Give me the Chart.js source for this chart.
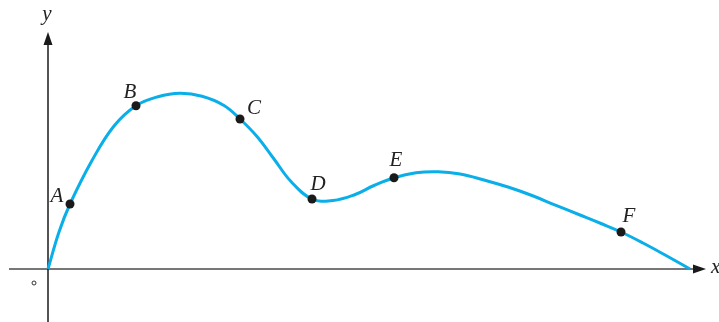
<!DOCTYPE html>
<html>
<head>
<style>
  html, body { margin: 0; padding: 0; background: #fff; }
  #wrap { width: 719px; height: 322px; position: relative; }
</style>
</head>
<body>
<div id="wrap"><canvas id="chart"></canvas></div>
<script src="https://cdn.jsdelivr.net/npm/chart.js@4/dist/chart.umd.min.js"></script>
<script>
// curve samples, measured from the origin (x right, y up)
const curveX = [0, 11, 22, 44, 66, 88, 110, 132, 154, 176, 192, 209, 226, 243, 264, 285, 306, 326, 346, 368, 390, 412, 436, 460, 484, 508, 532, 553, 573, 595, 618, 642];
const curveY = [0, 37, 65, 108.5, 143, 163.3, 172.3, 175.7, 172.7, 163.5, 150, 132.5, 110, 87.5, 70, 68.5, 74, 83.5, 91.3, 96.3, 97.3, 95, 89, 82, 73.5, 63.6, 54, 45.5, 37, 26, 13.5, 0];

// named points on the curve
const pointNames = ['A', 'B', 'C', 'D', 'E', 'F'];
const pointX = [22, 88, 192, 264, 346, 573];
const pointY = [65, 163.3, 150, 70, 91.3, 37];

const curveColor = '#0aaee8';
const labelFont = 'italic 21px "Liberation Serif", "DejaVu Serif", serif';

// label offsets relative to each point (pixels)
const labelOffset = {
  A: [-13, -8], B: [-6, -13], C: [14, -11], D: [6, -15], E: [2, -17], F: [8, -16]
};

const axesPlugin = {
  id: 'axes',
  beforeDatasetsDraw(chart) {
    const ctx = chart.ctx;
    const sx = chart.scales.x, sy = chart.scales.y;
    const ox = sx.getPixelForValue(0), oy = sy.getPixelForValue(0);
    ctx.save();
    // x axis
    ctx.strokeStyle = '#4a4a4a';
    ctx.lineWidth = 1.5;
    ctx.beginPath();
    ctx.moveTo(sx.getPixelForValue(-39), oy);
    ctx.lineTo(sx.getPixelForValue(648), oy);
    ctx.stroke();
    // y axis
    ctx.strokeStyle = '#1a1a1a';
    ctx.beginPath();
    ctx.moveTo(ox, sy.getPixelForValue(-53));
    ctx.lineTo(ox, sy.getPixelForValue(227));
    ctx.stroke();
    // arrow heads
    ctx.fillStyle = '#1a1a1a';
    const tx = sx.getPixelForValue(658);
    ctx.beginPath();
    ctx.moveTo(tx, oy);
    ctx.lineTo(tx - 13, oy - 4.5);
    ctx.lineTo(tx - 13, oy + 4.5);
    ctx.closePath();
    ctx.fill();
    const ty = sy.getPixelForValue(237);
    ctx.beginPath();
    ctx.moveTo(ox, ty);
    ctx.lineTo(ox - 4.5, ty + 13);
    ctx.lineTo(ox + 4.5, ty + 13);
    ctx.closePath();
    ctx.fill();
    // origin mark
    ctx.strokeStyle = '#333';
    ctx.lineWidth = 1;
    ctx.beginPath();
    ctx.arc(ox - 14, oy + 14, 2, 0, Math.PI * 2);
    ctx.stroke();
    // axis names
    ctx.fillStyle = '#222';
    ctx.font = labelFont;
    ctx.textAlign = 'center';
    ctx.textBaseline = 'middle';
    ctx.fillText('y', ox - 1, sy.getPixelForValue(255));
    ctx.textAlign = 'left';
    ctx.fillText('x', sx.getPixelForValue(663), oy - 2);
    ctx.restore();
  },
  afterDatasetsDraw(chart) {
    const ctx = chart.ctx;
    const sx = chart.scales.x, sy = chart.scales.y;
    ctx.save();
    ctx.fillStyle = '#222';
    ctx.font = labelFont;
    ctx.textAlign = 'center';
    ctx.textBaseline = 'middle';
    pointNames.forEach((n, i) => {
      const o = labelOffset[n];
      ctx.fillText(n, sx.getPixelForValue(pointX[i]) + o[0], sy.getPixelForValue(pointY[i]) + o[1]);
    });
    ctx.restore();
  }
};

new Chart(document.getElementById('chart'), {
  type: 'scatter',
  data: {
    datasets: [
      {
        data: pointX.map((x, i) => ({ x: x, y: pointY[i] })),
        pointRadius: 4.5,
        pointBackgroundColor: '#1a1a1a',
        pointBorderWidth: 0,
        showLine: false,
        order: 0
      },
      {
        data: curveX.map((x, i) => ({ x: x, y: curveY[i] })),
        showLine: true,
        borderColor: curveColor,
        borderWidth: 3,
        pointRadius: 0,
        tension: 0.4,
        order: 1
      }
    ]
  },
  options: {
    responsive: true,
    maintainAspectRatio: false,
    animation: false,
    layout: { padding: 0, autoPadding: false },
    plugins: { legend: { display: false }, tooltip: { enabled: false } },
    scales: {
      x: { type: 'linear', min: -48, max: 671, display: false },
      y: { type: 'linear', min: -53, max: 269, display: false }
    }
  },
  plugins: [axesPlugin]
});
</script>
</body>
</html>
